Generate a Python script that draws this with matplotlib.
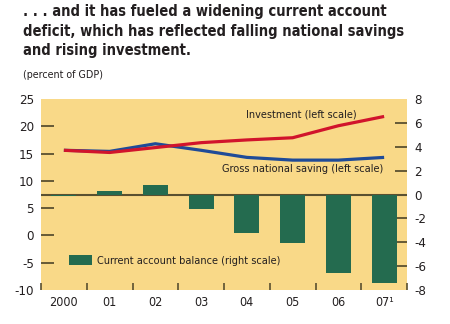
import matplotlib
matplotlib.use("Agg")
import matplotlib.pyplot as plt
import numpy as np

# data
years = ["2000", "01", "02", "03", "04", "05", "06", "07\u00b9"]
investment = [15.6, 15.2, 16.1, 17.0, 17.5, 17.9, 20.1, 21.8]
saving = [15.6, 15.4, 16.8, 15.6, 14.3, 13.8, 13.8, 14.3]
current_account = [-0.1, 0.3, 0.8, -1.2, -3.25, -4.05, -6.55, -7.45]
left_ticks = [25, 20, 15, 10, 5, 0, -5, -10]
right_ticks = [8, 6, 4, 2, 0, -2, -4, -6, -8]

plt.rcParams["font.family"] = ["DejaVu Sans"]
plt.rcParams["font.stretch"] = "condensed"

bg = "#f9d988"
green = "#246b4f"
red = "#d1142c"
blue = "#1f4b98"
olive = "#5a5030"
ink = "#231f20"

fig = plt.figure(figsize=(4.5, 3.24), dpi=100)
ax = fig.add_axes([41 / 450, 1 - 290 / 324, 366 / 450, 191 / 324])
ax2 = ax.twinx()

x = np.arange(len(years))

# bars on the right scale, behind the lines
ax2.patch.set_visible(True)
ax2.patch.set_facecolor(bg)
ax2.axhline(0, color=olive, lw=1.5, zorder=1)
bars = ax2.bar(x, current_account, width=0.55, color=green, zorder=2,
               label="Current account balance (right scale)")
ax2.set_ylim(-8, 8)

ax.set_zorder(ax2.get_zorder() + 1)
ax.patch.set_visible(False)
ax.plot(x, saving, color=blue, lw=2.3, solid_capstyle="butt")
ax.plot(x, investment, color=red, lw=2.3, solid_capstyle="butt")
ax.set_ylim(-10, 25)
ax.set_xlim(-0.5, len(years) - 0.5)

for a in (ax, ax2):
    for s in a.spines.values():
        s.set_visible(False)

# left axis
ax.set_yticks(left_ticks)
ax.set_yticklabels([str(v) for v in left_ticks])
ax.tick_params(axis="y", direction="in", length=9, width=1.3, color=olive,
               labelsize=9.5, labelcolor=ink, pad=5)
for t in ax.yaxis.get_major_ticks():
    if t.get_loc() in (25, -10):
        t.tick1line.set_visible(False)

# right axis
ax2.set_yticks(right_ticks)
ax2.set_yticklabels([str(v) for v in right_ticks])
ax2.tick_params(axis="y", direction="in", length=9, width=1.3, color=olive,
                labelsize=9.5, labelcolor=ink, pad=5)
for t in ax2.yaxis.get_major_ticks():
    if t.get_loc() in (8, -8):
        t.tick2line.set_visible(False)

# x axis: ticks at boundaries, labels at centres
ax.set_xticks(np.arange(len(years) + 1) - 0.5)
ax.set_xticklabels([])
ax.set_xticks(x, minor=True)
ax.set_xticklabels(years, minor=True)
ax.tick_params(axis="x", which="major", direction="in", length=5, width=1.2, color=olive)
ax.tick_params(axis="x", which="minor", length=0, labelsize=9, labelcolor=ink, pad=4)
ax2.tick_params(axis="x", bottom=False, labelbottom=False)

# labels
ax.text(5.18, 22.25, "Investment (left scale)", ha="center", va="center",
        fontsize=7.8, color=ink)
ax.text(5.22, 12.1, "Gross national saving (left scale)", ha="center", va="center",
        fontsize=7.8, color=ink)
ax2.legend(handles=[bars], loc="center left", bbox_to_anchor=(0.065, 0.154),
           frameon=False, fontsize=7.8, handlelength=2.1, handleheight=0.95,
           handletextpad=0.5, borderaxespad=0, labelcolor=ink)

fig.text(23 / 450, 1 - 4 / 324,
         ". . . and it has fueled a widening current account\n"
         "deficit, which has reflected falling national savings\n"
         "and rising investment.",
         ha="left", va="top", fontsize=10.5, fontweight="bold", color=ink,
         linespacing=1.38)
fig.text(23 / 450, 1 - 75 / 324, "(percent of GDP)", ha="left", va="center",
         fontsize=7.7, color=ink)

fig.savefig("out.png", dpi=100)
